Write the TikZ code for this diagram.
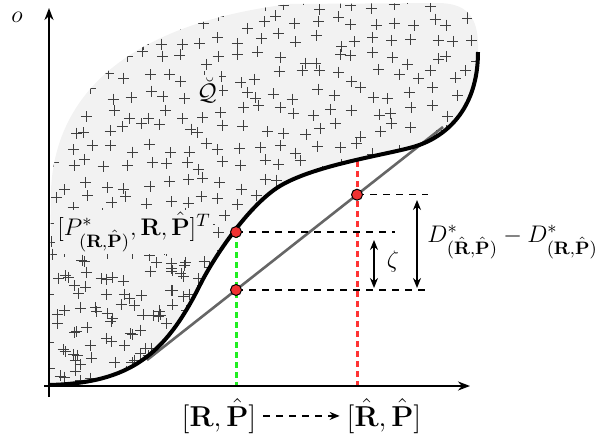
\documentclass[tikz,border=0pt]{standalone}
\usepackage{amsmath}
\usetikzlibrary{arrows.meta}
\definecolor{regionfill}{HTML}{F2F2F2}
\definecolor{dotred}{HTML}{F03232}
\definecolor{lgreen}{HTML}{22EE22}
\definecolor{lred}{HTML}{FF3333}
\begin{document}
\begin{tikzpicture}[x=0.5pt,y=-0.5pt,
  axis/.style={line width=1pt,-{Stealth[length=6pt,width=4.5pt]}},
  crossmark/.style={line width=0.4pt,black!75},
  curveline/.style={line width=2pt},
  chord/.style={line width=1.3pt,black!60},
  guide/.style={line width=0.7pt,dash pattern=on 3.5pt off 3pt},
  vguide/.style={line width=1.5pt,dash pattern=on 3pt off 2pt},
  dot/.style={circle,fill=dotred,draw=black,line width=0.5pt,inner sep=0pt,minimum size=5.5pt},
  dimarrow/.style={line width=0.7pt,{Stealth[length=5pt,width=4pt]}-{Stealth[length=5pt,width=4pt]}},
  lbl/.style={inner sep=0pt}]
\useasboundingbox (0,0) rectangle (600,439);
\def\mainCurve{(49,385) .. controls (130,383) and (165,355) .. (200,285) .. controls (215,255) and (250,204) .. (280,186) .. controls (315,165) and (385,155) .. (413,147) .. controls (445,138) and (478,110) .. (478,52)}
\def\regionPath{\mainCurve .. controls (479,20) and (470,4) .. (440,3) -- (290,4) .. controls (120,25) and (55,100) .. (51,190) -- (49,386) -- cycle}
% region
\fill[regionfill] \regionPath;
\begin{scope}
\clip \regionPath;
\pgfmathsetseed{7}
\foreach \gx in {52,71,...,490}{
  \foreach \gy in {4,22,...,390}{
    \pgfmathsetmacro\cx{\gx+14*rnd-7}
    \pgfmathsetmacro\cy{\gy+14*rnd-7}
    \draw[crossmark] (\cx-5.5,\cy) -- (\cx+5.5,\cy) (\cx,\cy-5.5) -- (\cx,\cy+5.5);
  }
}
\foreach \i in {1,...,60}{
  \pgfmathsetmacro\cx{52+180*rnd}
  \pgfmathsetmacro\cy{250+135*rnd}
  \draw[crossmark] (\cx-5.5,\cy) -- (\cx+5.5,\cy) (\cx,\cy-5.5) -- (\cx,\cy+5.5);
}
\end{scope}
% labels inside region
\node[lbl,font=\fontsize{13}{15}\selectfont,fill=regionfill,inner sep=1pt,anchor=base west] (plab) at (55,235) {$[P^*_{(\mathbf{R},\hat{\mathbf{P}})},\mathbf{R},\hat{\mathbf{P}}]^T$};
\node[fill=regionfill,inner sep=1pt,font=\large] (qlab) at (207,90) {$\breve{\mathcal{Q}}$};
% chord
\coordinate (L1) at (147,360);
\coordinate (L2) at (443,127);
\draw[chord] (L1) -- (L2);
% axes coordinates
\coordinate (xs) at (44,386);
\coordinate (xe) at (470,386);
\coordinate (ys) at (49,397);
\coordinate (ye) at (49,8);
% vertical guides
\coordinate (gA) at (236,232);
\coordinate (gAb) at (236,386);
\coordinate (gC) at (357,161);
\coordinate (gCb) at (357,386);
\coordinate (dBc) at (intersection of L1--L2 and gA--gAb);
\coordinate (dCc) at (intersection of L1--L2 and gC--gCb);
\draw[vguide,lgreen] (gA) -- (gAb);
\draw[vguide,lred] (gC) -- (gCb);
% horizontal guides
\coordinate (hC) at (428,0);
\coordinate (hA) at (395,0);
\draw[guide] (dCc) -- (dCc -| hC);
\draw[guide] (gA) -- (gA -| hA);
\draw[guide] (dBc) -- (dBc -| hC);
% main curve
\draw[curveline] \mainCurve;
% axes
\draw[axis] (xs) -- (xe);
\draw[axis] (ys) -- (ye);
\node[font=\large] (olab) at (17,17) {$o$};
% dots
\node[dot] (dA) at (gA) {};
\node[dot] (dB) at (dBc) {};
\node[dot] (dC) at (dCc) {};
% dimension arrows
\coordinate (zt) at (374,240);
\coordinate (zb) at (374,288);
\draw[dimarrow] (zt) -- (zb);
\node[lbl,font=\large] (zeta) at (393,261) {$\zeta$};
\coordinate (Dt) at (417,200);
\coordinate (Db) at (417,288);
\draw[dimarrow] (Dt) -- (Db);
\node[lbl,font=\fontsize{12.5}{15}\selectfont,anchor=base west] (dlab) at (427,242) {$D^*_{(\hat{\mathbf{R}},\hat{\mathbf{P}})}-D^*_{(\mathbf{R},\hat{\mathbf{P}})}$};
% bottom labels
\node[font=\Large,anchor=base] (rp) at (219,426) {$[\mathbf{R},\hat{\mathbf{P}}]$};
\node[font=\Large,anchor=base] (rhp) at (384,426) {$[\hat{\mathbf{R}},\hat{\mathbf{P}}]$};
\draw[guide,-{Stealth[length=5pt,width=4pt]}] (rp.east) -- (rhp.west);
\end{tikzpicture}
\end{document}
